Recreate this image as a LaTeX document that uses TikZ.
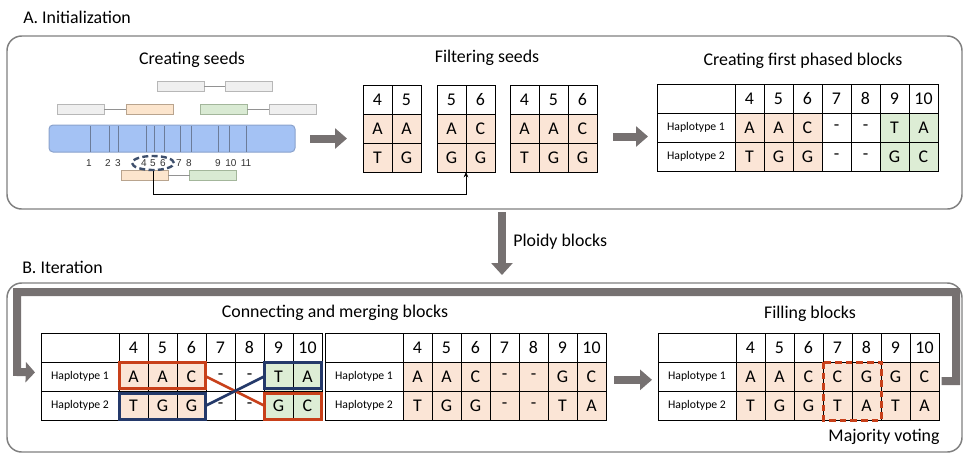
\documentclass[tikz,border=0pt]{standalone}
\usepackage{fontspec}
\setmainfont{Carlito}
\newfontfamily\locusfont{Liberation Sans}
\usetikzlibrary{arrows.meta,shapes.geometric}

\definecolor{blockorange}{HTML}{FBE5D6}
\definecolor{blockgreen}{HTML}{DDEDD5}
\definecolor{framegray}{HTML}{7F7F7F}
\definecolor{arrowgray}{HTML}{767171}
\definecolor{mergered}{HTML}{C8401A}
\definecolor{mergeblue}{HTML}{24396A}
\definecolor{chromfill}{HTML}{A4C2F4}
\definecolor{chromedge}{HTML}{8AA2CC}
\definecolor{locusline}{HTML}{6C7C99}
\definecolor{readgrayfill}{HTML}{EFEFEF}
\definecolor{readgrayedge}{HTML}{B7B7B7}
\definecolor{readorangefill}{HTML}{FCE5CD}
\definecolor{readorangeedge}{HTML}{B9A48E}
\definecolor{readgreenfill}{HTML}{D9EAD3}
\definecolor{readgreenedge}{HTML}{A3B69B}
\definecolor{ringblue}{HTML}{3E4F6C}

\newcommand\bigfont{\fontsize{13.4}{16}\selectfont}
\newcommand\hapfont{\fontsize{8.8}{10}\selectfont}

% small seed table: name, left, top, list of header/upper/lower entries
\newcommand\seedtable[4]{%
  \foreach \hd/\up/\lo [count=\i] in {#4} {%
    \node[cell, anchor=north west] (#1-h\i) at ({#2+(\i-1)*29},#3) {\hd};
    \node[cell, fill=blockorange, anchor=north west] (#1-a\i) at ({#2+(\i-1)*29},{#3+29}) {\up};
    \node[cell, fill=blockorange, anchor=north west] (#1-b\i) at ({#2+(\i-1)*29},{#3+58}) {\lo};
  }}

% phased block table over positions 4..10: name, left, top, haplotype 1, haplotype 2
\newcommand\phasetable[5]{%
  \node[cell, labcell, anchor=north west] (#1-h0) at (#2,#3) {};
  \node[cell, labcell, anchor=north west] (#1-l1) at (#2,{#3+29}) {Haplotype 1};
  \node[cell, labcell, anchor=north west] (#1-l2) at (#2,{#3+58}) {Haplotype 2};
  \foreach \hd [count=\i] in {4,...,10}
    \node[cell, anchor=north west] (#1-h\i) at ({#2+78+(\i-1)*29},#3) {\hd};
  \foreach \al/\fc [count=\i] in {#4}
    \node[cell, fill=\fc, anchor=north west] (#1-a\i) at ({#2+78+(\i-1)*29},{#3+29}) {\al};
  \foreach \al/\fc [count=\i] in {#5}
    \node[cell, fill=\fc, anchor=north west] (#1-b\i) at ({#2+78+(\i-1)*29},{#3+58}) {\al};
}

\begin{document}
\begin{tikzpicture}[x=0.75pt, y=-0.75pt,
  frame/.style={draw=framegray, line width=1.1pt, rounded corners=11pt, inner sep=0pt, outer sep=0pt},
  title/.style={font=\bigfont, inner sep=0pt},
  cell/.style={draw=black, line width=0.75pt, minimum width=21.75pt, minimum height=21.75pt,
    inner sep=0pt, outer sep=0pt, font=\bigfont},
  labcell/.style={minimum width=58.5pt, font=\hapfont},
  read/.style={line width=0.75pt, minimum width=35.25pt, minimum height=7.5pt, inner sep=0pt, outer sep=0pt},
  readgray/.style={read, draw=readgrayedge, fill=readgrayfill},
  readorange/.style={read, draw=readorangeedge, fill=readorangefill},
  readgreen/.style={read, draw=readgreenedge, fill=readgreenfill},
  readlink/.style={draw=readgrayedge!80!black, line width=0.75pt},
  chrom/.style={draw=chromedge, fill=chromfill, line width=0.75pt, rounded corners=3pt,
    minimum width=184.5pt, minimum height=20.25pt, inner sep=0pt, outer sep=0pt},
  locus/.style={draw=locusline, line width=0.7pt},
  locusnum/.style={font=\locusfont\fontsize{7.5}{9}\selectfont, text=black!80, inner sep=0pt},
  seedring/.style={ellipse, draw=ringblue, line width=1.8pt, dash pattern=on 4.5pt off 2.5pt,
    minimum width=31.5pt, minimum height=10.5pt, inner sep=0pt},
  seedlink/.style={draw=black, line width=0.75pt, -{Stealth[length=4pt,width=3.5pt]}},
  bigarrow/.style={draw=arrowgray, line width=6pt, -{Triangle[width=15pt,length=9pt]}},
  loopline/.style={draw=arrowgray, line width=6pt, line join=miter, -{Triangle[width=15pt,length=7pt]}},
  mergebox/.style={line width=2.25pt},
  mergeline/.style={line width=2pt},
  votebox/.style={draw=mergered, line width=2.25pt, dash pattern=on 5pt off 3pt}]

\useasboundingbox (0,0) rectangle (965,455);

% section frames and headings
\node[frame, minimum width=716.25pt, minimum height=129.75pt] (frameA) at (484.5,122.5) {};
\node[frame, minimum width=716.25pt, minimum height=126.75pt] (frameB) at (484.5,367.5) {};
\node[title, anchor=west] (headA) at (23,17) {A. Initialization};
\node[title, anchor=west] (headB) at (22,267) {B. Iteration};

% ---------- creating seeds ----------
\node[title] (tseeds) at (192,60) {Creating seeds};
\node[readgray] (r1) at (180.5,86) {};
\node[readgray] (r2) at (248.5,86) {};
\draw[readlink] (r1) -- (r2);
\node[readgray] (r3) at (80.5,109) {};
\node[readorange] (r4) at (149.5,109) {};
\draw[readlink] (r3) -- (r4);
\node[readgreen] (r5) at (223.5,109) {};
\node[readgray] (r6) at (292.5,109) {};
\draw[readlink] (r5) -- (r6);
\node[readorange] (r7) at (144.5,175.5) {};
\node[readgreen] (r8) at (213,175.5) {};
\draw[readlink] (r7) -- (r8);

\node[chrom] (chrom) at (172,138.5) {};
\foreach \x in {90,109,118,146,154,164,180,191,218,229,246}
  \draw[locus] (\x,125.5) -- (\x,151.5);
\foreach \n/\x in {1/89,2/108,3/118,4/144,5/153,6/163,7/179,8/189,9/218,10/231,11/246}
  \node[locusnum] (n\n) at (\x,163) {\n};
\node[seedring] (ring) at (153,163) {};

% ---------- filtering seeds ----------
\node[title] (tfilter) at (487,58) {Filtering seeds};
\seedtable{f1}{363}{85}{4/A/T,5/A/G}
\seedtable{f2}{437}{85}{5/A/G,6/C/G}
\seedtable{f3}{510}{85}{4/A/T,5/A/G,6/C/G}

\draw[seedlink] (ring.south) -- ++(0,23) -| (f2-b1.south east);

% ---------- first phased blocks ----------
\node[title] (tfirst) at (803,61) {Creating first phased blocks};
\phasetable{pa}{657}{84}{A/blockorange,A/blockorange,C/blockorange,-/white,-/white,T/blockgreen,A/blockgreen}{T/blockorange,G/blockorange,G/blockorange,-/white,-/white,G/blockgreen,C/blockgreen}

\draw[bigarrow, shorten <=11.25pt, shorten >=12pt] (chrom.east) -- (chrom.east -| f1-a1.west);
\coordinate (a2s) at ([yshift=-6pt]f3-a3.east);
\draw[bigarrow, shorten <=12pt, shorten >=6.75pt] (a2s) -- (a2s -| pa-l1.west);

% ---------- ploidy blocks ----------
\draw[bigarrow, -{Triangle[width=15.75pt,length=9pt]}, shorten <=2.25pt, shorten >=6pt]
  ([xshift=13.1pt]frameA.south) -- ([xshift=13.1pt]frameB.north);
\node[title, anchor=west] (ploidy) at (513,242) {Ploidy blocks};

% ---------- connecting and merging blocks ----------
\node[title] (tmerge) at (335,313) {Connecting and merging blocks};
\phasetable{b1}{41}{333}{A/blockorange,A/blockorange,C/blockorange,-/white,-/white,T/blockgreen,A/blockgreen}{T/blockorange,G/blockorange,G/blockorange,-/white,-/white,G/blockgreen,C/blockgreen}
\draw[mergeline, draw=mergered] (b1-a3.east) -- (b1-b6.west);
\draw[mergeline, draw=mergeblue] (b1-b3.east) -- (b1-a6.west);
\draw[mergebox, draw=mergered] (b1-a1.north west) rectangle ([shift={(-0.75pt,2.25pt)}]b1-a3.south east);
\draw[mergebox, draw=mergeblue] ([yshift=-1.5pt]b1-b1.north west) rectangle ([shift={(-0.75pt,0.75pt)}]b1-b3.south east);
\draw[mergebox, draw=mergeblue] (b1-a6.north west) rectangle ([shift={(-0.75pt,2.25pt)}]b1-a7.south east);
\draw[mergebox, draw=mergered] ([yshift=-1.5pt]b1-b6.north west) rectangle ([shift={(-0.75pt,0.75pt)}]b1-b7.south east);

\phasetable{b2}{325}{333}{A/blockorange,A/blockorange,C/blockorange,-/blockorange,-/blockorange,G/blockorange,C/blockorange}{T/blockorange,G/blockorange,G/blockorange,-/blockorange,-/blockorange,T/blockorange,A/blockorange}

% ---------- filling blocks ----------
\node[title] (tfill) at (810,314) {Filling blocks};
\phasetable{b3}{658}{333}{A/blockorange,A/blockorange,C/blockorange,C/blockorange,G/blockorange,G/blockorange,C/blockorange}{T/blockorange,G/blockorange,G/blockorange,T/blockorange,A/blockorange,T/blockorange,A/blockorange}
\draw[votebox] (b3-a4.north west) rectangle (b3-b5.south east);
\node[title] (vote) at (884,437) {Majority voting};

\coordinate (a3s) at ([yshift=-2.5pt]b2-a7.east);
\draw[bigarrow, shorten <=6pt, shorten >=4.5pt] (a3s) -- (a3s -| b3-l1.west);

% iteration loop back to the start of the section
\draw[loopline, shorten >=4.5pt] ([shift={(2pt,-3.5pt)}]b3-a7.east) -| (956,292) -| (17,372)
  -- ([yshift=3pt]b1-l1.west);
\end{tikzpicture}
\end{document}
